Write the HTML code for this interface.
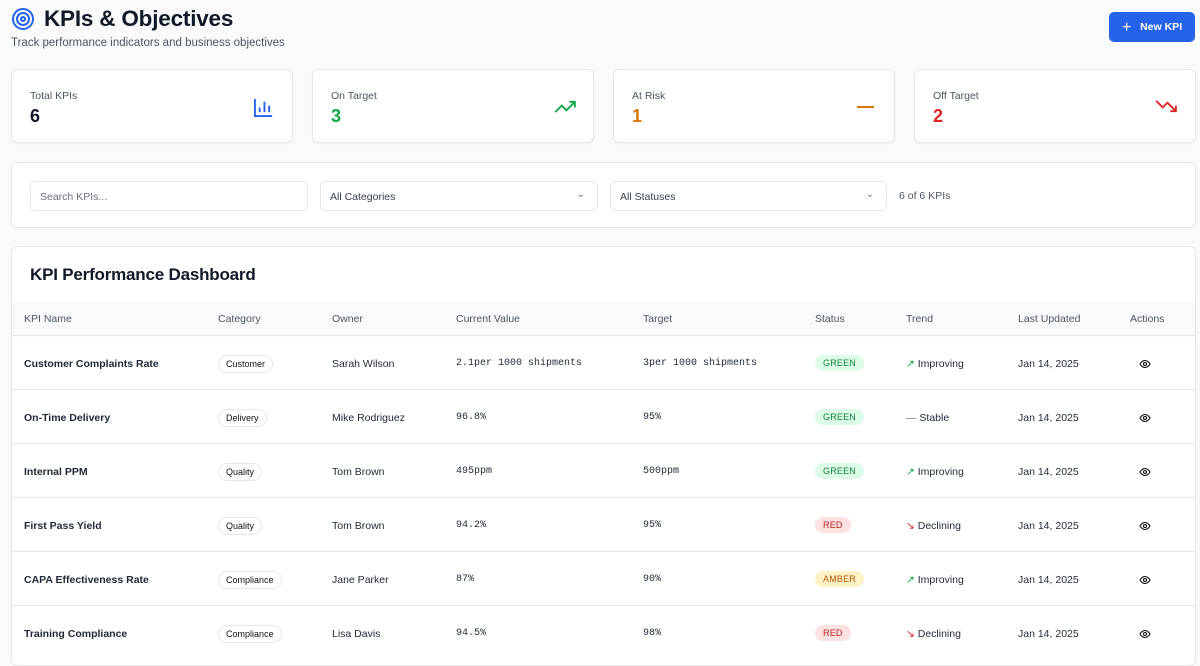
<!DOCTYPE html>
<html><head><meta charset="utf-8"><style>
*{box-sizing:border-box;margin:0;padding:0}
body{width:1200px;height:649px;overflow:hidden;background:#f8fafc;font-family:"Liberation Sans",sans-serif;color:#111827;position:relative}
.a{position:absolute}
.card{position:absolute;background:#fff;border:1px solid #e5e7eb;border-radius:6px;box-shadow:0 1px 2px rgba(0,0,0,.04)}
.lbl{font-size:10.5px;color:#4b5563}
.num{font-size:18px;font-weight:bold}
.inp{position:absolute;top:18px;height:30px;border:1px solid #e5e7eb;border-radius:5px;font-size:10.5px;color:#374151;padding:9px 9px}
.th{position:absolute;font-size:10.5px;color:#4b5563;top:12px}
.row{position:absolute;left:0;width:1184px;height:54px;border-top:1px solid #e5e7eb;font-size:10.5px;color:#1f2937}
.row>div{position:absolute;top:22px}
.mono{font-family:"Liberation Mono",monospace;font-size:10px}
.cat{top:19px!important;border:1px solid #e5e7eb;border-radius:10px;padding:3px 7px;font-size:9px;color:#111}
.st{top:19px!important;border-radius:9px;padding:3px 8px;font-size:9px;letter-spacing:.2px}
.g{background:#dcfce7;color:#15803d}.r{background:#fee2e2;color:#b91c1c}.am{background:#fef3c7;color:#b45309}
.eye{left:1127px;top:22px!important}
</style></head><body>
<svg class="a" style="left:11px;top:7px" width="24" height="24" viewBox="0 0 24 24" fill="none" stroke="#2563eb" stroke-width="2"><circle cx="12" cy="12" r="10"/><circle cx="12" cy="12" r="6"/><circle cx="12" cy="12" r="2"/></svg>
<div class="a" style="left:44px;top:6px;font-size:22.5px;font-weight:bold;letter-spacing:-0.2px">KPIs &amp; Objectives</div>
<div class="a" style="left:11px;top:37px;font-size:11.5px;color:#4b5563">Track performance indicators and business objectives</div>
<div class="a" style="left:1109px;top:12px;width:86px;height:30px;background:#2563eb;border-radius:5px;color:#fff;font-size:10.5px;font-weight:bold;line-height:30px;padding-left:13px"><span style="font-size:16px;font-weight:normal;vertical-align:-2px">+</span>&nbsp;&nbsp;&nbsp;New KPI</div>

<div class="card" style="left:11px;top:69px;width:282px;height:74px"><div class="a lbl" style="left:18px;top:20px">Total KPIs</div><div class="a num" style="left:18px;top:36px">6</div>
<svg class="a" style="left:241px;top:27px" width="21" height="21" viewBox="0 0 22 22" fill="none" stroke="#2563eb" stroke-width="2"><path d="M2 2v18h18M7 16v-5M12 16V5M17 16v-7"/></svg></div>
<div class="card" style="left:312px;top:69px;width:282px;height:74px"><div class="a lbl" style="left:18px;top:20px">On Target</div><div class="a num" style="left:18px;top:36px;color:#16a34a">3</div>
<svg class="a" style="left:241px;top:29px" width="23" height="15" viewBox="0 0 24 16" fill="none" stroke="#16a34a" stroke-width="2"><path d="M1 14l7-7 5 5 9-9M16 3h6v6"/></svg></div>
<div class="card" style="left:613px;top:69px;width:282px;height:74px"><div class="a lbl" style="left:18px;top:20px">At Risk</div><div class="a num" style="left:18px;top:36px;color:#d97706">1</div>
<div class="a" style="left:243px;top:36px;width:17px;height:2px;background:#d97706"></div></div>
<div class="card" style="left:914px;top:69px;width:282px;height:74px"><div class="a lbl" style="left:18px;top:20px">Off Target</div><div class="a num" style="left:18px;top:36px;color:#dc2626">2</div>
<svg class="a" style="left:240px;top:29px" width="23" height="15" viewBox="0 0 24 16" fill="none" stroke="#dc2626" stroke-width="2"><path d="M1 2l7 7 5-5 9 9M16 13h6V7"/></svg></div>

<div class="card" style="left:11px;top:162px;width:1185px;height:66px">
<div class="inp" style="left:18px;width:278px;color:#6b7280">Search KPIs...</div>
<div class="inp" style="left:308px;width:278px">All Categories<span class="a" style="right:12px;top:7px;font-size:10px;color:#6b7280">⌄</span></div>
<div class="inp" style="left:598px;width:277px">All Statuses<span class="a" style="right:12px;top:7px;font-size:10px;color:#6b7280">⌄</span></div>
<div class="a" style="left:887px;top:27px;font-size:10.5px;color:#4b5563">6 of 6 KPIs</div>
</div>

<div class="card" style="left:11px;top:246px;width:1185px;height:420px;overflow:hidden">
<div class="a" style="left:18px;top:18px;font-size:17px;font-weight:bold;letter-spacing:-0.2px">KPI Performance Dashboard</div>
<div class="a" style="left:0;top:54px;width:1185px;height:36px;background:#f9fafb">
<div class="th" style="left:12px">KPI Name</div><div class="th" style="left:206px">Category</div><div class="th" style="left:320px">Owner</div><div class="th" style="left:444px">Current Value</div><div class="th" style="left:631px">Target</div><div class="th" style="left:803px">Status</div><div class="th" style="left:894px">Trend</div><div class="th" style="left:1006px">Last Updated</div><div class="th" style="left:1118px">Actions</div></div>
</div>
<svg width="0" height="0" style="position:absolute"><defs><symbol id="e" viewBox="0 0 24 24"><path d="M2 12s4-7 10-7 10 7 10 7-4 7-10 7S2 12 2 12z" fill="none" stroke="#111" stroke-width="2.2"/><circle cx="12" cy="12" r="3" fill="none" stroke="#111" stroke-width="2.2"/></symbol></defs></svg>
<div class="a" style="left:12px;top:335px;width:1185px;height:320px">
<div class="row" style="top:0"><div style="left:12px;font-weight:bold">Customer Complaints Rate</div><div class="cat" style="left:206px">Customer</div><div style="left:320px">Sarah Wilson</div><div class="mono" style="left:444px">2.1per 1000 shipments</div><div class="mono" style="left:631px">3per 1000 shipments</div><div class="st g" style="left:803px">GREEN</div><div style="left:894px"><span style="color:#16a34a">↗</span> Improving</div><div style="left:1006px">Jan 14, 2025</div><svg class="a eye" width="12" height="12"><use href="#e"/></svg></div>
<div class="row" style="top:54px"><div style="left:12px;font-weight:bold">On-Time Delivery</div><div class="cat" style="left:206px">Delivery</div><div style="left:320px">Mike Rodriguez</div><div class="mono" style="left:444px">96.8%</div><div class="mono" style="left:631px">95%</div><div class="st g" style="left:803px">GREEN</div><div style="left:894px"><span style="color:#6b7280">—</span> Stable</div><div style="left:1006px">Jan 14, 2025</div><svg class="a eye" width="12" height="12"><use href="#e"/></svg></div>
<div class="row" style="top:108px"><div style="left:12px;font-weight:bold">Internal PPM</div><div class="cat" style="left:206px">Quality</div><div style="left:320px">Tom Brown</div><div class="mono" style="left:444px">495ppm</div><div class="mono" style="left:631px">500ppm</div><div class="st g" style="left:803px">GREEN</div><div style="left:894px"><span style="color:#16a34a">↗</span> Improving</div><div style="left:1006px">Jan 14, 2025</div><svg class="a eye" width="12" height="12"><use href="#e"/></svg></div>
<div class="row" style="top:162px"><div style="left:12px;font-weight:bold">First Pass Yield</div><div class="cat" style="left:206px">Quality</div><div style="left:320px">Tom Brown</div><div class="mono" style="left:444px">94.2%</div><div class="mono" style="left:631px">95%</div><div class="st r" style="left:803px">RED</div><div style="left:894px"><span style="color:#dc2626">↘</span> Declining</div><div style="left:1006px">Jan 14, 2025</div><svg class="a eye" width="12" height="12"><use href="#e"/></svg></div>
<div class="row" style="top:216px"><div style="left:12px;font-weight:bold">CAPA Effectiveness Rate</div><div class="cat" style="left:206px">Compliance</div><div style="left:320px">Jane Parker</div><div class="mono" style="left:444px">87%</div><div class="mono" style="left:631px">90%</div><div class="st am" style="left:803px">AMBER</div><div style="left:894px"><span style="color:#16a34a">↗</span> Improving</div><div style="left:1006px">Jan 14, 2025</div><svg class="a eye" width="12" height="12"><use href="#e"/></svg></div>
<div class="row" style="top:270px"><div style="left:12px;font-weight:bold">Training Compliance</div><div class="cat" style="left:206px">Compliance</div><div style="left:320px">Lisa Davis</div><div class="mono" style="left:444px">94.5%</div><div class="mono" style="left:631px">98%</div><div class="st r" style="left:803px">RED</div><div style="left:894px"><span style="color:#dc2626">↘</span> Declining</div><div style="left:1006px">Jan 14, 2025</div><svg class="a eye" width="12" height="12"><use href="#e"/></svg></div>
</div>
</body></html>
